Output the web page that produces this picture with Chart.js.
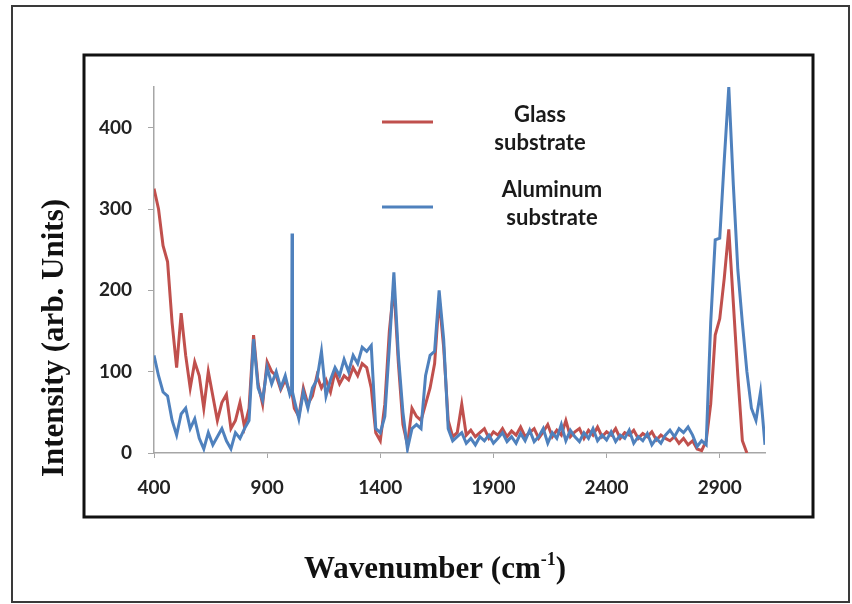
<!DOCTYPE html>
<html>
<head>
<meta charset="utf-8">
<title>Raman spectra</title>
<script src="https://cdn.jsdelivr.net/npm/chart.js@4.4.1/dist/chart.umd.min.js"></script>
<style>
  html, body { margin: 0; padding: 0; background: #fff; }
  canvas { display: block; }
</style>
</head>
<body>
<canvas id="chartSpectra" width="852" height="604"></canvas>
<script>
// Wavenumber (cm-1) sampling points
const wavenumber = [
    400, 420, 440, 460, 480, 500, 520, 540, 560, 580,
    600, 620, 640, 660, 680, 700, 720, 740, 760, 780,
    800, 820, 840, 860, 880, 900, 920, 940, 960, 980,
    1000, 1008, 1010, 1012, 1020, 1040, 1060, 1080, 1100, 1120, 1140, 1160, 1180,
    1200, 1220, 1240, 1260, 1280, 1300, 1320, 1340, 1360, 1380,
    1400, 1420, 1440, 1460, 1480, 1500, 1520, 1540, 1560, 1580,
    1600, 1620, 1640, 1660, 1680, 1700, 1720, 1740, 1760, 1780,
    1800, 1820, 1840, 1860, 1880, 1900, 1920, 1940, 1960, 1980,
    2000, 2020, 2040, 2060, 2080, 2100, 2120, 2140, 2160, 2180,
    2200, 2220, 2240, 2260, 2280, 2300, 2320, 2340, 2360, 2380,
    2400, 2420, 2440, 2460, 2480, 2500, 2520, 2540, 2560, 2580,
    2600, 2620, 2640, 2660, 2680, 2700, 2720, 2740, 2760, 2780,
    2800, 2820, 2840, 2860, 2880, 2900, 2920, 2940, 2960, 2980,
    3000, 3020, 3040, 3060, 3080, 3100
];

// Glass substrate intensity (arb. units)
const glassIntensity = [
    325, 300, 255, 235, 160, 105, 172, 120, 80, 112,
    95, 55, 100, 70, 40, 62, 72, 30, 40, 62,
    32, 55, 145, 85, 60, 112, 100, 95, 78, 90,
    75, 72, 74, 70, 55, 45, 80, 60, 70, 95, 80, 90, 75,
    100, 85, 95, 90, 105, 95, 110, 105, 80, 25,
    15, 60, 150, 205, 110, 35, 10, 55, 45, 40,
    60, 80, 110, 190, 130, 40, 20, 25, 60, 22,
    28, 20, 25, 30, 18, 26, 22, 30, 20, 27,
    22, 32, 20, 25, 30, 18, 26, 35, 20, 28,
    22, 40, 20, 26, 30, 18, 28, 22, 32, 20,
    26, 22, 30, 18, 25, 22, 28, 18, 24, 20,
    26, 16, 22, 18, 15, 20, 12, 18, 10, 15,
    5, 3, 15, 60, 145, 165, 215, 275, 185, 95,
    15, 0, null, null, null, null
];

// Aluminum substrate intensity (arb. units)
const aluminumIntensity = [
    120, 95, 75, 70, 40, 22, 48, 55, 30, 42,
    18, 5, 25, 10, 20, 30, 15, 5, 25, 18,
    30, 40, 140, 80, 65, 105, 85, 100, 80, 95,
    72, 78, 270, 75, 65, 42, 75, 55, 80, 90, 125, 70, 90,
    105, 95, 115, 100, 120, 110, 130, 125, 132, 30,
    25, 45, 130, 222, 120, 50, 5, 30, 35, 30,
    95, 120, 125, 200, 140, 30, 15, 20, 25, 12,
    18, 10, 20, 15, 22, 12, 18, 25, 14, 20,
    12, 24, 15, 28, 14, 20, 30, 12, 25, 18,
    35, 15, 28, 20, 14, 25, 18, 30, 15, 22,
    16, 26, 14, 22, 18, 28, 12, 20, 15, 24,
    10, 18, 12, 22, 28, 20, 30, 25, 32, 22,
    8, 15, 10, 160, 262, 264, 360, 450, 330, 225,
    160, 100, 55, 40, 75, 10
];

const xTicks = [400, 900, 1400, 1900, 2400, 2900];
const yTicks = [0, 100, 200, 300, 400];

const seriesNames = [['Glass', 'substrate'], ['Aluminum', 'substrate']];
const seriesColors = ['#c0504d', '#4f81bd'];

const yTitle = 'Intensity (arb. Units)';
const xTitle = ['Wavenumber (cm', '-1', ')'];

const tickFont = { family: 'Lato', size: 19, weight: 'bold' };

// frames, axis titles and the two-line legend, drawn straight on the canvas
const decorations = {
    id: 'decorations',
    beforeDraw(chart) {
        const ctx = chart.ctx;
        ctx.save();
        ctx.fillStyle = '#ffffff';
        ctx.fillRect(0, 0, chart.width, chart.height);
        ctx.restore();
    },
    afterDraw(chart) {
        const ctx = chart.ctx;
        ctx.save();

        // outer and inner boxes
        ctx.strokeStyle = '#3a3a3a';
        ctx.lineWidth = 2;
        ctx.strokeRect(12, 6, 837, 596);
        ctx.strokeStyle = '#111111';
        ctx.lineWidth = 3;
        ctx.strokeRect(84, 55, 729, 462);

        // axis titles
        ctx.fillStyle = '#111111';
        const mainFont = 'bold 31px "Liberation Serif"';
        const supFont = 'bold 18px "Liberation Serif"';
        ctx.font = mainFont;
        ctx.textBaseline = 'middle';
        ctx.textAlign = 'center';
        ctx.save();
        ctx.translate(55, 338);
        ctx.rotate(-Math.PI / 2);
        ctx.fillText(yTitle, 0, 0);
        ctx.restore();

        const w0 = ctx.measureText(xTitle[0]).width;
        const w2 = ctx.measureText(xTitle[2]).width;
        ctx.font = supFont;
        const w1 = ctx.measureText(xTitle[1]).width;
        let x = 435 - (w0 + w1 + w2) / 2;
        const y = 570;
        ctx.textAlign = 'left';
        ctx.font = mainFont;
        ctx.fillText(xTitle[0], x, y);
        x += w0;
        ctx.font = supFont;
        ctx.fillText(xTitle[1], x, y - 10);
        x += w1;
        ctx.font = mainFont;
        ctx.fillText(xTitle[2], x, y);

        // legend
        const rows = [{ lineY: 122, textX: 540, textY: 115 }, { lineY: 207, textX: 552, textY: 190 }];
        rows.forEach((r, i) => {
            ctx.strokeStyle = seriesColors[i];
            ctx.lineWidth = 3;
            ctx.beginPath();
            ctx.moveTo(382, r.lineY);
            ctx.lineTo(433, r.lineY);
            ctx.stroke();
            ctx.fillStyle = '#1a1a1a';
            ctx.font = 'bold 22px Lato';
            ctx.textAlign = 'center';
            seriesNames[i].forEach((t, k) => ctx.fillText(t, r.textX, r.textY + k * 28));
        });

        ctx.restore();
    }
};

const ctx = document.getElementById('chartSpectra').getContext('2d');

new Chart(ctx, {
    type: 'line',
    data: {
        datasets: [
            {
                label: seriesNames[0].join(' '),
                data: wavenumber.map((w, i) => ({ x: w, y: glassIntensity[i] })),
                borderColor: seriesColors[0],
                borderWidth: 3,
                pointRadius: 0,
                tension: 0,
                order: 2
            },
            {
                label: seriesNames[1].join(' '),
                data: wavenumber.map((w, i) => ({ x: w, y: aluminumIntensity[i] })),
                borderColor: seriesColors[1],
                borderWidth: 3,
                pointRadius: 0,
                tension: 0,
                order: 1
            }
        ]
    },
    options: {
        responsive: false,
        animation: false,
        devicePixelRatio: 1,
        layout: { padding: { left: 94, right: 87, top: 87, bottom: 101 } },
        plugins: {
            legend: { display: false },
            tooltip: { enabled: false }
        },
        scales: {
            x: {
                type: 'linear',
                min: 400,
                max: 3100,
                afterBuildTicks: s => { s.ticks = xTicks.map(v => ({ value: v })); },
                afterFit: s => { s.height = 50; },
                border: { color: '#a6a6a6', width: 1.5 },
                grid: { drawOnChartArea: false, drawTicks: true, tickLength: 5, color: '#a6a6a6' },
                ticks: { font: tickFont, color: '#222', padding: 18, maxRotation: 0, callback: v => String(v) }
            },
            y: {
                min: 0,
                max: 450,
                afterBuildTicks: s => { s.ticks = yTicks.map(v => ({ value: v })); },
                afterFit: s => { s.width = 60; },
                border: { color: '#a6a6a6', width: 1.5 },
                grid: { drawOnChartArea: false, drawTicks: true, tickLength: 6, color: '#a6a6a6' },
                ticks: { font: tickFont, color: '#222', padding: 16, callback: v => String(v) }
            }
        }
    },
    plugins: [decorations]
});
</script>
</body>
</html>
